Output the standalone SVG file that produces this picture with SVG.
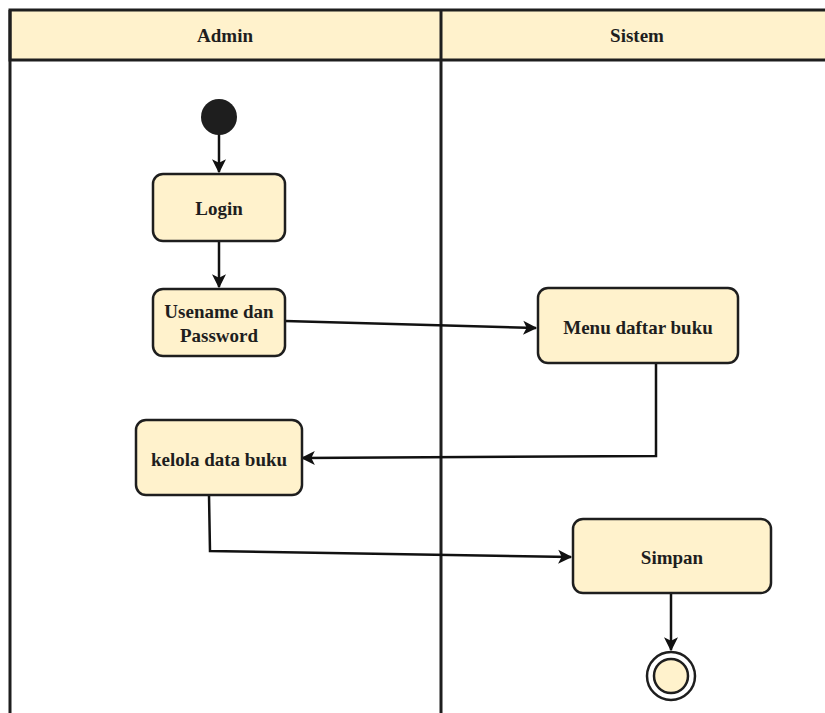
<svg xmlns="http://www.w3.org/2000/svg" width="825" height="713" viewBox="0 0 825 713">
<style>
.lane{fill:none;stroke:#1e1e1e;stroke-width:3}
.hdr{fill:#FFF2CC;stroke:#1e1e1e;stroke-width:3}
.box{fill:#FFF2CC;stroke:#1e1e1e;stroke-width:2.5}
.t{font-family:"Liberation Serif",serif;font-weight:bold;font-size:19px;fill:#1e1e1e;text-anchor:middle;dominant-baseline:central}
.c{fill:none;stroke:#111;stroke-width:2.5}
</style>
<defs>
<marker id="ah" viewBox="0 0 12 12" refX="11" refY="6" markerWidth="14" markerHeight="14" markerUnits="userSpaceOnUse" orient="auto" overflow="visible">
<path d="M0,0 L12,6 L0,12 L3,6 z" fill="#111"/>
</marker>
</defs>
<rect width="825" height="713" fill="#fff"/>
<g id="lanes">
<rect class="hdr" x="10" y="10" width="830" height="50"/>
<line class="lane" x1="10" y1="10" x2="10" y2="713"/>
<line class="lane" x1="441" y1="10" x2="441" y2="713"/>
<text class="t" x="225" y="35">Admin</text>
<text class="t" x="637" y="35">Sistem</text>
</g>
<g id="connectors">
<line class="c" x1="219" y1="118" x2="219" y2="172" marker-end="url(#ah)"/>
<line class="c" x1="219" y1="241" x2="219" y2="287" marker-end="url(#ah)"/>
<polyline class="c" points="285,321 536,328" marker-end="url(#ah)"/>
<polyline class="c" points="656,363 656,456 302,458" marker-end="url(#ah)"/>
<polyline class="c" points="209,495 210,551 571,557" marker-end="url(#ah)"/>
<line class="c" x1="671" y1="593" x2="671" y2="650" marker-end="url(#ah)"/>
</g>
<g id="start">
<circle cx="219" cy="117" r="18" fill="#1e1e1e"/>
</g>
<g id="login">
<rect class="box" x="153" y="174" width="132" height="67" rx="10"/>
<text class="t" x="219" y="208">Login</text>
</g>
<g id="usename">
<rect class="box" x="153" y="289" width="132" height="67" rx="10"/>
<text class="t" x="219" y="311">Usename dan</text>
<text class="t" x="219" y="335">Password</text>
</g>
<g id="menu">
<rect class="box" x="538" y="288" width="200" height="75" rx="10"/>
<text class="t" x="638" y="327">Menu daftar buku</text>
</g>
<g id="kelola">
<rect class="box" x="136" y="420" width="166" height="75" rx="10"/>
<text class="t" x="219" y="459">kelola data buku</text>
</g>
<g id="simpan">
<rect class="box" x="573" y="519" width="198" height="74" rx="10"/>
<text class="t" x="672" y="557">Simpan</text>
</g>
<g id="end">
<circle cx="671" cy="676" r="24" fill="#fff" stroke="#1e1e1e" stroke-width="2.5"/>
<circle cx="671" cy="676" r="17" fill="#FFF2CC" stroke="#1e1e1e" stroke-width="2.5"/>
</g>
</svg>
